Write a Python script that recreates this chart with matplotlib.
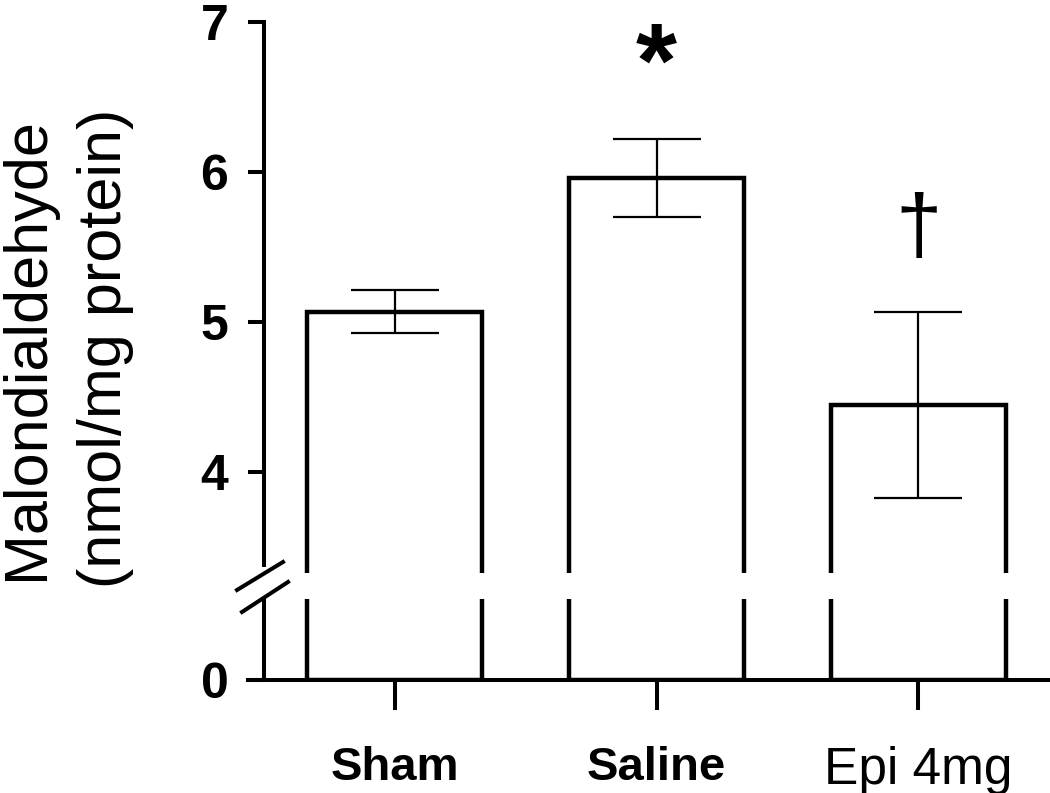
#!/usr/bin/env python3

import matplotlib
matplotlib.use('Agg')
import matplotlib.pyplot as plt
from matplotlib.lines import Line2D

# data
groups = ['Sham', 'Saline', 'Epi 4mg']
mda_mean = [5.07, 5.96, 4.45]
mda_sem = [0.145, 0.26, 0.62]
marks = ['', '*', '\u2020']
upper_ticks = [4, 5, 6, 7]

W, H = 1050, 793
plt.rcParams['font.family'] = ['Liberation Sans', 'DejaVu Sans']


def px_box(x0, y0, x1, y1):
    # pixel box (top-left origin) -> figure fraction
    return [x0 / W, 1 - y1 / H, (x1 - x0) / W, (y1 - y0) / H]


def style_axis(ax):
    for side in ['top', 'right']:
        ax.spines[side].set_visible(False)
    for side in ['left', 'bottom']:
        ax.spines[side].set_linewidth(2.9)
    ax.spines['left'].set_position(('data', -0.5))
    ax.tick_params(axis='y', length=11.5, width=2.9, pad=14, labelsize=36)
    for lab in ax.get_yticklabels():
        lab.set_fontweight('bold')


def main():
    fig = plt.figure(figsize=(W / 100, H / 100), dpi=100)
    x = list(range(len(groups)))
    xlim = (-0.56, 2.495)
    width = 0.668

    # upper part: 4 - 7
    top = fig.add_axes(px_box(248, 22, 1048, 573))
    top.bar(x, mda_mean, width=width, color='white', edgecolor='black',
            linewidth=3.2, zorder=2)
    top.errorbar(x, mda_mean, yerr=mda_sem, fmt='none', ecolor='black',
                 elinewidth=1.6, capsize=32, capthick=1.6, zorder=3)
    top.set_xlim(*xlim)
    top.set_ylim(3.327, 7.0)
    top.set_yticks(upper_ticks)
    top.spines['bottom'].set_visible(False)
    top.set_xticks([])
    style_axis(top)
    top.spines['left'].set_bounds(3.38, 7)

    # significance marks
    top.text(x[1], 6.50, marks[1], ha='center', va='baseline',
             fontsize=76, fontweight='bold')
    top.text(x[2], 5.61, marks[2], ha='center', va='center', fontsize=60)

    # lower part: 0
    low = fig.add_axes(px_box(248, 599, 1048, 680))
    low.bar(x, mda_mean, width=width, color='white', edgecolor='black',
            linewidth=3.2, zorder=2)
    low.set_xlim(*xlim)
    low.set_ylim(0, 0.54)
    low.set_yticks([0])
    style_axis(low)
    low.spines['bottom'].set_bounds(xlim[0], xlim[1])
    low.set_xticks(x)
    low.set_xticklabels(groups)
    low.tick_params(axis='x', length=21.6, width=2.9, pad=26, labelsize=34)
    for lab, w, s in zip(low.get_xticklabels(), ['bold', 'bold', 'normal'],
                         [34, 34, 37]):
        lab.set_fontweight(w)
        lab.set_fontsize(s)

    # axis break marks
    for (xa, ya, xb, yb) in [(237, 590, 283, 562), (242, 612, 288, 582)]:
        fig.add_artist(Line2D([xa / W, xb / W], [1 - ya / H, 1 - yb / H],
                              transform=fig.transFigure, color='black',
                              linewidth=2.9))

    # y label, two lines
    fig.text(28 / W, 1 - 349 / H, 'Malondialdehyde', rotation=90,
             ha='center', va='center', fontsize=44)
    fig.text(105 / W, 1 - 348 / H, '(nmol/mg protein)', rotation=90,
             ha='center', va='center', fontsize=44)

    plt.savefig('out.png', dpi=100)


if __name__ == '__main__':
    main()
